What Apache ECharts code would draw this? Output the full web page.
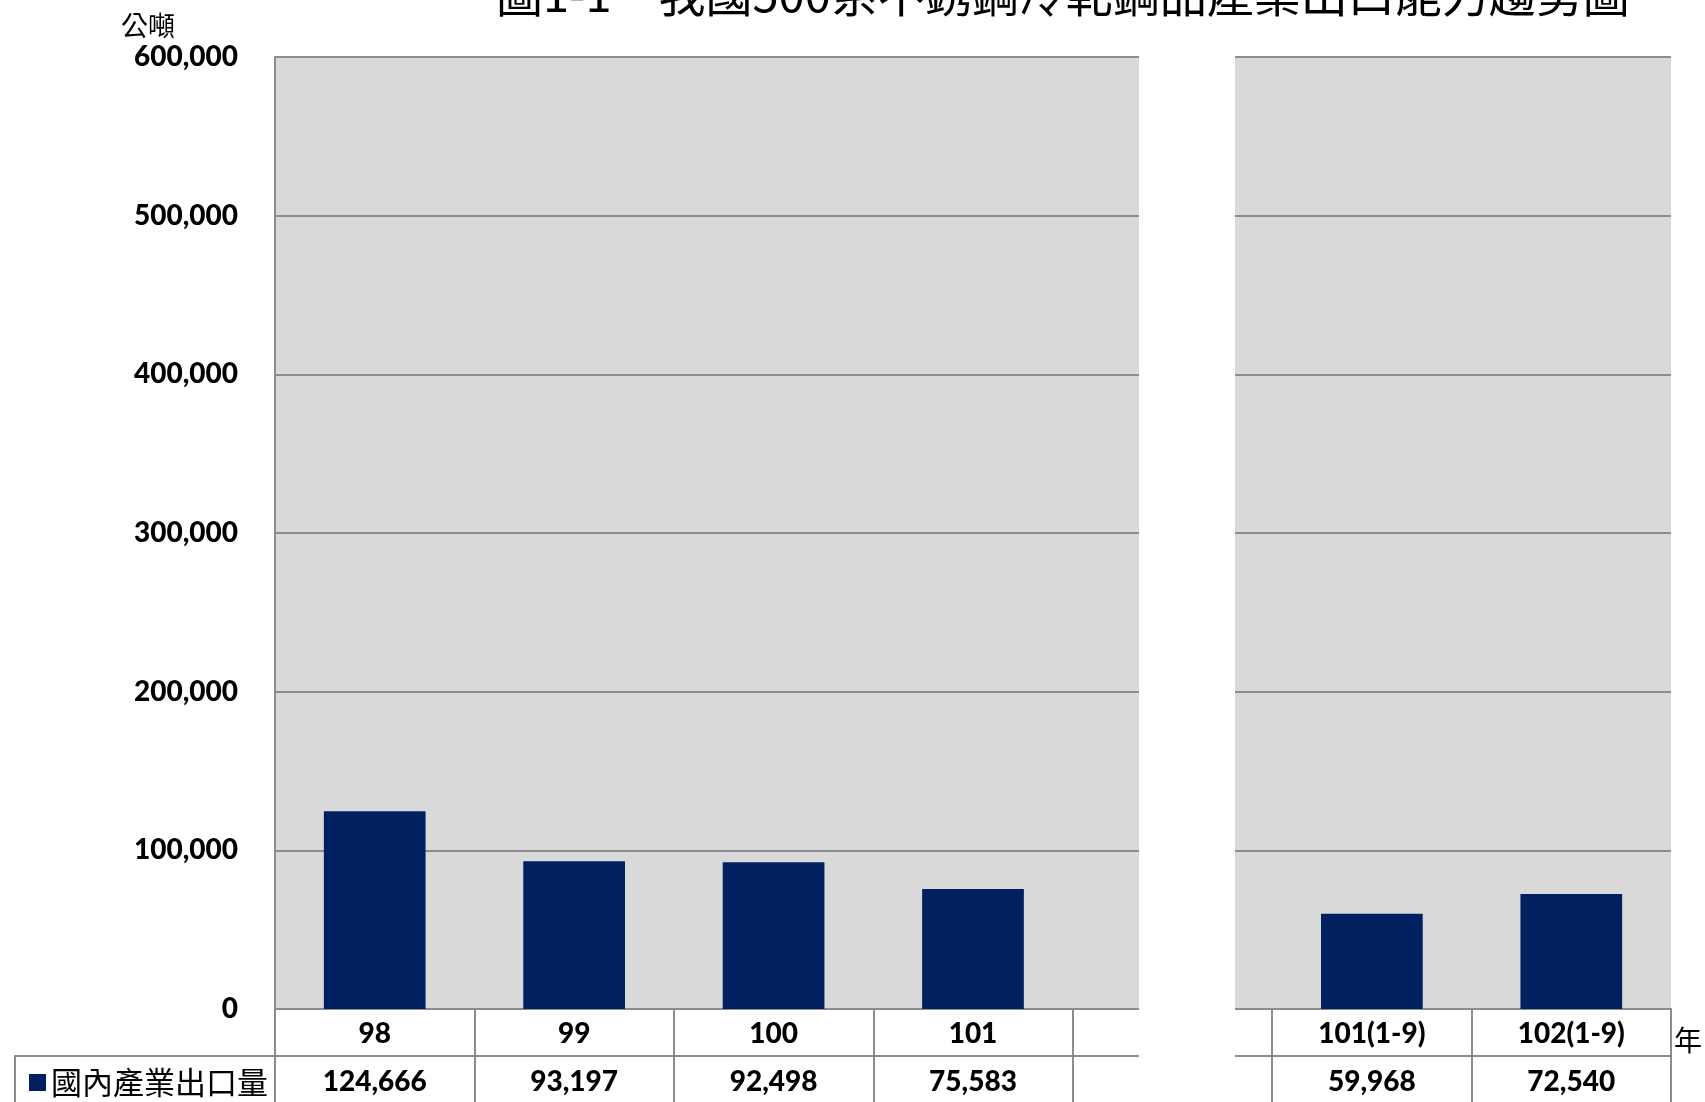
<!DOCTYPE html>
<html>
<head>
<meta charset="utf-8">
<script src="https://cdn.jsdelivr.net/npm/echarts@6/dist/echarts.min.js"></script>
<style>
	html, body { margin: 0; padding: 0; background: #fff; }
	#main { width: 1705px; height: 1102px; }
</style>
</head>
<body>
<div id="main"></div>
<script>
// data
var categories = ['98', '99', '100', '101', '', '101(1-9)', '102(1-9)'];
var exportVolume = [124666, 93197, 92498, 75583, null, 59968, 72540];
var seriesName = '國內產業出口量';
var yMax = 600000;
var yStep = 100000;

var lineGrey = '#8c8c8c';
var numFont = 'Lato';
var cjkFont = '"Noto Sans CJK TC"';

var valueLabels = exportVolume.map(function(v) {
	return v == null ? '' : v.toLocaleString('en-US');
});

var myChart = echarts.init(document.getElementById('main'));

var option = {
	animation: false,
	title: {
		text: '圖1-1　我國500系不銹鋼冷軋鋼品產業出口能力趨勢圖',
		left: 491,
		top: -34,
		textStyle: {
			fontFamily: cjkFont,
			fontSize: 47,
			fontWeight: 'normal',
			color: '#000'
		}
	},
	legend: {
		data: [seriesName],
		left: 24,
		top: 1062,
		icon: 'rect',
		itemWidth: 17,
		itemHeight: 17,
		textStyle: {
			fontFamily: cjkFont,
			fontSize: 31,
			color: '#000'
		}
	},
	grid: {
		left: 275,
		right: 30,
		top: 57,
		bottom: 93,
		show: true,
		backgroundColor: '#d9d9d9',
		borderWidth: 0,
		containLabel: false
	},
	xAxis: [{
		type: 'category',
		data: categories,
		name: '年',
		nameLocation: 'end',
		nameGap: 3,
		nameTextStyle: {
			fontFamily: cjkFont,
			fontSize: 28,
			color: '#000',
			verticalAlign: 'top',
			align: 'left',
			padding: [17, 0, 0, 0]
		},
		axisLine: { show: true, lineStyle: { color: lineGrey, width: 2 } },
		axisTick: {
			show: true,
			alignWithLabel: false,
			length: 94,
			lineStyle: { color: lineGrey, width: 2 }
		},
		axisLabel: {
			margin: 11,
			fontFamily: numFont,
			fontWeight: 900,
			fontSize: 28,
			color: '#000'
		}
	}, {
		type: 'category',
		data: valueLabels,
		position: 'bottom',
		offset: 47,
		axisLine: { show: true, lineStyle: { color: lineGrey, width: 2 } },
		axisTick: { show: false },
		axisLabel: {
			margin: 12,
			fontFamily: numFont,
			fontWeight: 900,
			fontSize: 28,
			color: '#000'
		}
	}],
	yAxis: {
		type: 'value',
		min: 0,
		max: yMax,
		interval: yStep,
		name: '公噸',
		nameLocation: 'end',
		nameGap: 18,
		nameTextStyle: {
			fontFamily: cjkFont,
			fontSize: 27,
			color: '#000',
			align: 'right',
			padding: [0, 100, 0, 0]
		},
		axisLine: { show: true, lineStyle: { color: lineGrey, width: 2 } },
		axisTick: { show: false },
		splitLine: { show: true, lineStyle: { color: lineGrey, width: 2 } },
		axisLabel: {
			margin: 37,
			fontFamily: numFont,
			fontWeight: 900,
			fontSize: 28,
			color: '#000',
			formatter: function(v) { return v.toLocaleString('en-US'); }
		}
	},
	graphic: [{
		// the break between the two panels
		type: 'rect',
		z: 100,
		shape: { x: 1139, y: 40, width: 96, height: 1070 },
		style: { fill: '#fff' }
	}, {
		// left cell of the data table
		type: 'polyline',
		z: 50,
		shape: { points: [[275, 1056], [15, 1056], [15, 1102]] },
		style: { stroke: lineGrey, lineWidth: 2, fill: null }
	}],
	series: [{
		name: seriesName,
		type: 'bar',
		barWidth: '51%',
		itemStyle: { color: '#002060' },
		data: exportVolume
	}]
};
myChart.setOption(option);
</script>
</body>
</html>
